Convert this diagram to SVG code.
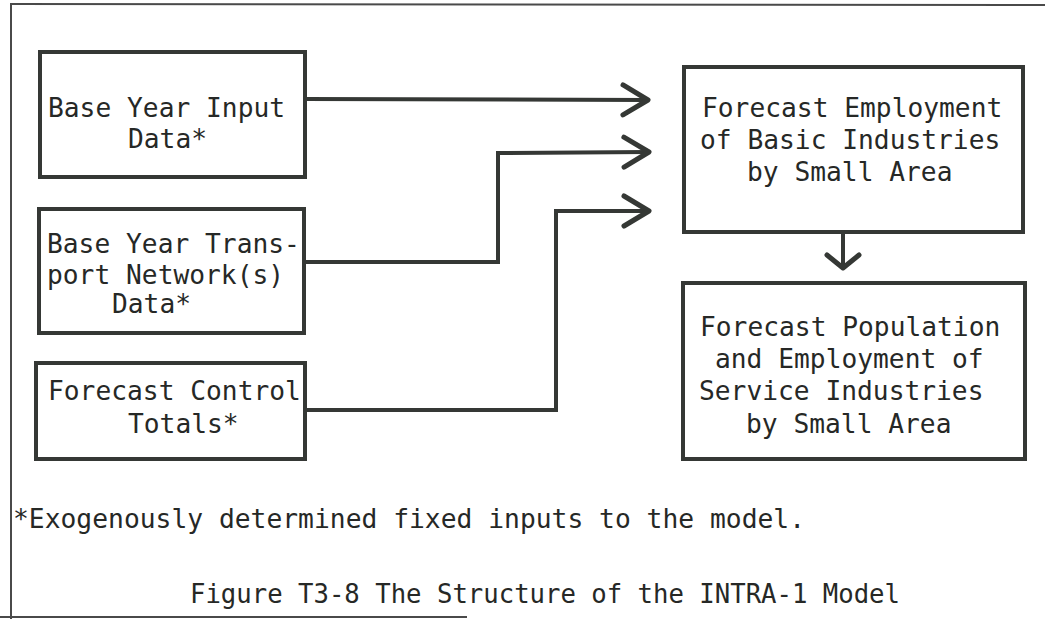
<svg xmlns="http://www.w3.org/2000/svg" width="1045" height="619" viewBox="0 0 1045 619">
  <style>
    .frame { stroke: #4a4a4a; stroke-width: 2; fill: none; }
    .box { stroke: #353835; stroke-width: 4; fill: none; stroke-linejoin: miter; }
    .conn { stroke: #353835; stroke-width: 4; fill: none; stroke-linejoin: miter; }
    .lbl { font-family: "DejaVu Sans Mono", "Liberation Mono", monospace; font-size: 26.25px; fill: #262826; }
    .note { font-family: "DejaVu Sans Mono", "Liberation Mono", monospace; font-size: 26px; fill: #262826; }
  </style>
  <defs>
    <marker id="chev" viewBox="-30 -20 36 40" markerWidth="36" markerHeight="40" refX="0" refY="0" markerUnits="userSpaceOnUse" orient="auto">
      <path d="M-24,-15 L1,0 L-24,15" fill="none" stroke="#353835" stroke-width="5" stroke-linecap="round" stroke-linejoin="round"/>
    </marker>
    <marker id="chevSmall" viewBox="-20 -20 28 40" markerWidth="28" markerHeight="40" refX="0" refY="0" markerUnits="userSpaceOnUse" orient="auto">
      <path d="M-12,-16 L1,0 L-12,16" fill="none" stroke="#353835" stroke-width="5" stroke-linecap="round" stroke-linejoin="round"/>
    </marker>
  </defs>

  <rect width="1045" height="619" fill="#ffffff"/>

  <!-- page frame -->
  <g id="frame">
    <line class="frame" x1="11" y1="3" x2="11" y2="619"/>
    <line class="frame" x1="11" y1="4" x2="1045" y2="5"/>
    <line class="frame" x1="0" y1="617" x2="467" y2="617"/>
  </g>

  <!-- connectors -->
  <g id="connectors">
    <path class="conn" d="M305,99 L647,100" marker-end="url(#chev)"/>
    <path class="conn" d="M304,262 L498,262 L498,153 L648,152" marker-end="url(#chev)"/>
    <path class="conn" d="M305,410 L556,410 L556,211 L648,211" marker-end="url(#chev)"/>
    <path class="conn" d="M843,232 L843,267" marker-end="url(#chevSmall)"/>
  </g>

  <g id="base-year-input">
    <rect class="box" x="40" y="52" width="265" height="125"/>
    <text class="lbl" x="48" y="117">Base Year Input</text>
    <text class="lbl" x="128" y="148">Data*</text>
  </g>

  <g id="base-year-transport">
    <rect class="box" x="39" y="209" width="265" height="124"/>
    <text class="lbl" x="47" y="253">Base Year Trans-</text>
    <text class="lbl" x="47" y="284">port Network(s)</text>
    <text class="lbl" x="112" y="313">Data*</text>
  </g>

  <g id="control-totals">
    <rect class="box" x="36" y="363" width="269" height="96"/>
    <text class="lbl" x="48" y="400">Forecast Control</text>
    <text class="lbl" x="128" y="433">Totals*</text>
  </g>

  <g id="basic-employment">
    <rect class="box" x="684" y="67" width="339" height="165"/>
    <text class="lbl" x="702" y="117">Forecast Employment</text>
    <text class="lbl" x="700" y="149">of Basic Industries</text>
    <text class="lbl" x="747" y="181">by Small Area</text>
  </g>

  <g id="service-population">
    <rect class="box" x="683" y="283" width="342" height="176"/>
    <text class="lbl" x="700" y="336">Forecast Population</text>
    <text class="lbl" x="715" y="368">and Employment of</text>
    <text class="lbl" x="699" y="400">Service Industries</text>
    <text class="lbl" x="746" y="433">by Small Area</text>
  </g>

  <g id="notes">
    <text class="note" x="13" y="528" textLength="792" lengthAdjust="spacingAndGlyphs">*Exogenously determined fixed inputs to the model.</text>
    <text class="note" x="190" y="603" textLength="710" lengthAdjust="spacingAndGlyphs">Figure T3-8 The Structure of the INTRA-1 Model</text>
  </g>
</svg>
